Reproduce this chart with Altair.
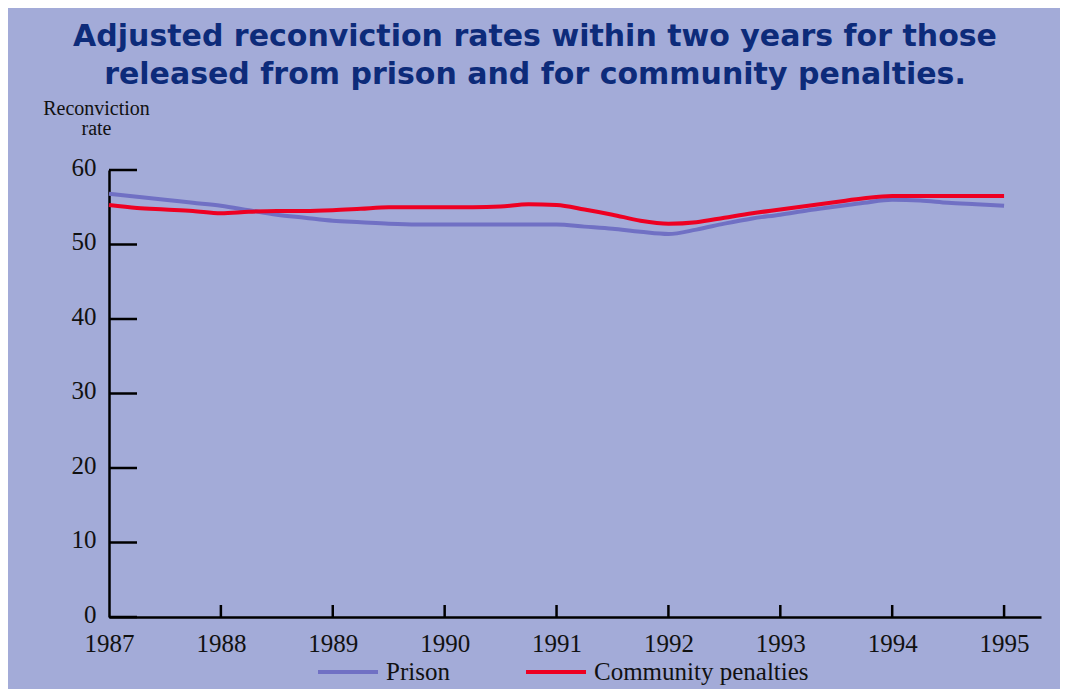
import altair as alt
import pandas as pd

# ---- data ----
years = [1987.0, 1987.25, 1987.5, 1987.75,
         1988.0, 1988.25, 1988.5, 1988.75,
         1989.0, 1989.25, 1989.5, 1989.75,
         1990.0, 1990.25, 1990.5, 1990.75,
         1991.0, 1991.25, 1991.5, 1991.75,
         1992.0, 1992.25, 1992.5, 1992.75,
         1993.0, 1993.25, 1993.5, 1993.75,
         1994.0, 1994.25, 1994.5, 1994.75,
         1995.0]
prison = [56.8, 56.4, 56.0, 55.6,
          55.2, 54.6, 54.0, 53.6,
          53.2, 53.0, 52.8, 52.7,
          52.7, 52.7, 52.7, 52.7,
          52.7, 52.4, 52.1, 51.7,
          51.4, 52.0, 52.8, 53.5,
          54.0, 54.6, 55.1, 55.6,
          56.0, 55.9, 55.6, 55.4,
          55.2]
community = [55.3, 54.9, 54.7, 54.5,
             54.2, 54.4, 54.5, 54.5,
             54.6, 54.8, 55.0, 55.0,
             55.0, 55.0, 55.1, 55.4,
             55.3, 54.7, 54.0, 53.2,
             52.8, 53.0, 53.6, 54.2,
             54.7, 55.2, 55.7, 56.2,
             56.5, 56.5, 56.5, 56.5,
             56.5]
series_names = ["Prison", "Community penalties"]
series_colors = ["#7070c4", "#ee0022"]
x_ticks = [1987, 1988, 1989, 1990, 1991, 1992, 1993, 1994, 1995]
y_ticks = [0, 10, 20, 30, 40, 50, 60]
title_lines = ["Adjusted reconviction rates within two years for those",
               "released from prison and for community penalties."]
y_title = ["Reconviction", "rate"]

# ---- layout / style ----
W, H = 932, 447
BG = "#a3abd8"
SERIF = "Liberation Serif"

df = pd.DataFrame({
    "year": years * 2,
    "rate": prison + community,
    "series": [series_names[0]] * len(years) + [series_names[1]] * len(years),
})

x_scale = alt.Scale(domain=[1987, 1995.33], nice=False, zero=False)
y_scale = alt.Scale(domain=[0, 60], nice=False)

x_axis = alt.Axis(values=x_ticks, format="d", title=None, tickSize=0,
                  labelPadding=14, labelFont=SERIF, labelFontSize=25,
                  labelColor="#111111", labelFlush=False,
                  domainColor="#000000", domainWidth=2.5, grid=False)
y_axis = alt.Axis(values=y_ticks, title=y_title, tickSize=0,
                  labelPadding=13, labelFont=SERIF, labelFontSize=25,
                  labelColor="#111111", labelOffset=-3, labelFlush=False,
                  domainColor="#000000", domainWidth=2.5, grid=False,
                  titleAngle=0, titleAlign="center",
                  titleBaseline="alphabetic", titleX=-13, titleY=-56,
                  titleFont=SERIF, titleFontSize=20,
                  titleFontWeight="normal", titleColor="#111111",
                  titleLineHeight=20)

base = alt.Chart(df).mark_line(strokeWidth=4, interpolate="monotone").encode(
    x=alt.X("year:Q", scale=x_scale, axis=x_axis),
    y=alt.Y("rate:Q", scale=y_scale, axis=y_axis),
    color=alt.Color("series:N",
                    scale=alt.Scale(domain=series_names, range=series_colors),
                    sort=series_names,
                    legend=alt.Legend(title=None, orient="none", legendX=207,
                                      legendY=470, direction="horizontal",
                                      symbolType="stroke", symbolSize=3600,
                                      symbolStrokeWidth=4, labelFont=SERIF,
                                      labelFontSize=25, labelColor="#111111",
                                      labelOffset=6, columnPadding=68,
                                      labelLimit=400, padding=0)),
)

prison_line = base.transform_filter(alt.datum.series == series_names[0])
community_line = base.transform_filter(alt.datum.series == series_names[1])

ytick_rules = alt.Chart(pd.DataFrame({"v": y_ticks})).mark_rule(
    color="#000000", strokeWidth=2.5).encode(
    y=alt.Y("v:Q", scale=y_scale, axis=y_axis),
    x=alt.value(0), x2=alt.value(28))

xtick_rules = alt.Chart(pd.DataFrame({"v": x_ticks[1:]})).mark_rule(
    color="#000000", strokeWidth=2.5).encode(
    x=alt.X("v:Q", scale=x_scale, axis=x_axis),
    y=alt.value(H), y2=alt.value(H - 12))

chart = alt.layer(prison_line, community_line, ytick_rules, xtick_rules).properties(
    width=W, height=H,
    title=alt.Title(text=title_lines, font="DejaVu Sans", fontSize=30,
                    fontWeight="bold", color="#0d2b7a", anchor="middle",
                    dx=-40, lineHeight=38, offset=8),
    padding={"left": 101, "top": 162, "right": 19, "bottom": 72},
    autosize=alt.AutoSizeParams(type="none"),
    background=BG,
).configure_view(stroke=None)

chart.save("out.html", embed_options={"renderer": "svg", "actions": False})
